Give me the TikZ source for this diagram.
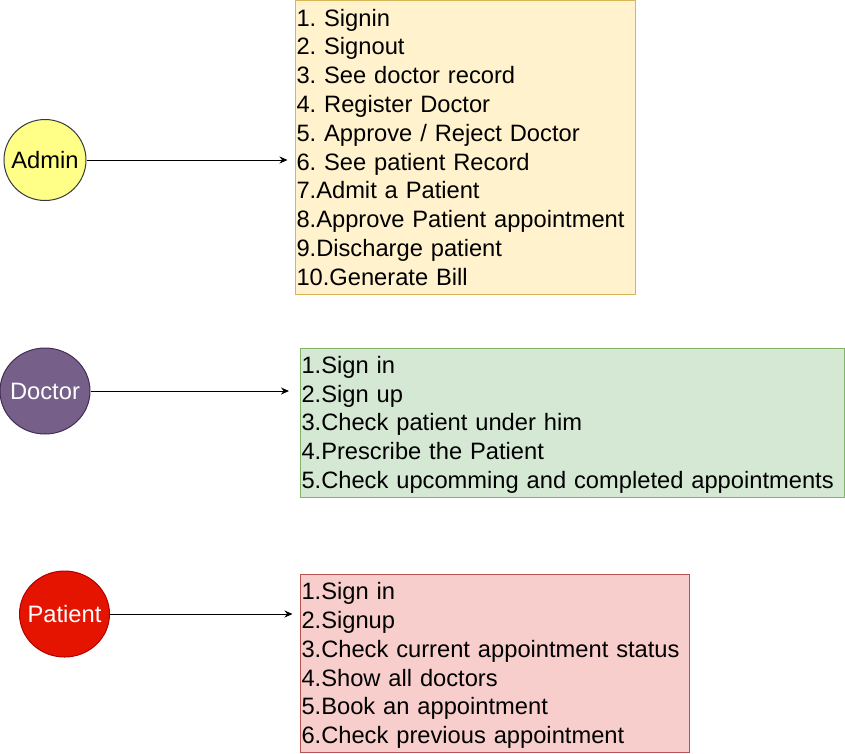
\documentclass[tikz,border=0pt]{standalone}
\usepackage{fontspec}
\setmainfont{Liberation Sans}
\usetikzlibrary{shapes.geometric,arrows.meta}

\definecolor{adminfill}{HTML}{FFFF88}
\definecolor{admindraw}{HTML}{36393D}
\definecolor{doctorfill}{HTML}{76608A}
\definecolor{doctordraw}{HTML}{432D57}
\definecolor{patientfill}{HTML}{E51400}
\definecolor{patientdraw}{HTML}{B20000}
\definecolor{yellowfill}{HTML}{FFF2CC}
\definecolor{yellowdraw}{HTML}{D6B656}
\definecolor{greenfill}{HTML}{D5E8D4}
\definecolor{greendraw}{HTML}{82B366}
\definecolor{redfill}{HTML}{F8CECC}
\definecolor{reddraw}{HTML}{B85450}

% line box as in the original (1.2em per line)
\newcommand\liststrut{\rule[-0.2535em]{0pt}{1.2em}}

\begin{document}
\frenchspacing
\begin{tikzpicture}[x=1pt, y=-1pt, font=\fontsize{23.7}{28.8}\selectfont,
    actor/.style = {draw, ellipse, inner sep=0pt, line width=1pt},
    list/.style = {draw, rectangle, align=left, inner xsep=1pt, inner ysep=0pt, line width=1pt},
    arr/.style = {-{Stealth[length=8pt,width=7pt]}, line width=1pt}]
    \useasboundingbox (0,0) rectangle (845,753);
    % actors
    \node[actor, fill=adminfill, draw=admindraw, minimum width=82pt, minimum height=81pt, label={center:Admin}] (admin) at (45,160) {};
    \node[actor, fill=doctorfill, draw=doctordraw, minimum width=90pt, minimum height=86pt, label={[text=white]center:Doctor}] (doctor) at (45,391) {};
    \node[actor, fill=patientfill, draw=patientdraw, minimum width=90pt, minimum height=86pt, label={[text=white]center:Patient}] (patient) at (64.5,614) {};
    % lists
    \node[list, fill=yellowfill, draw=yellowdraw, text width=337.5pt, minimum height=294pt] (adminlist) at (465.25,147.5) {\liststrut 1. Signin\\2. Signout\\3. See doctor record\\4. Register Doctor\\5. Approve / Reject Doctor\\6. See patient Record\\7.Admit a Patient\\8.Approve Patient appointment\\9.Discharge patient\\10.Generate Bill\liststrut};
    \node[list, fill=greenfill, draw=greendraw, text width=542pt, minimum height=148.5pt] (doctorlist) at (572.5,422.75) {\liststrut 1.Sign in\\2.Sign up\\3.Check patient under him\\4.Prescribe the Patient\\5.Check upcomming and completed appointments\liststrut};
    \node[list, fill=redfill, draw=reddraw, text width=387pt, minimum height=178pt] (patientlist) at (495,663.5) {\liststrut 1.Sign in\\2.Signup\\3.Check current appointment status\\4.Show all doctors\\5.Book an appointment\\6.Check previous appointment\liststrut};
    % arrows
    \draw[arr, shorten >=7.5pt] (admin) -- (admin -| adminlist.west);
    \draw[arr, shorten >=11pt] (doctor) -- (doctor -| doctorlist.west);
    \draw[arr, shorten >=7.5pt] (patient) -- (patient -| patientlist.west);
\end{tikzpicture}
\end{document}
